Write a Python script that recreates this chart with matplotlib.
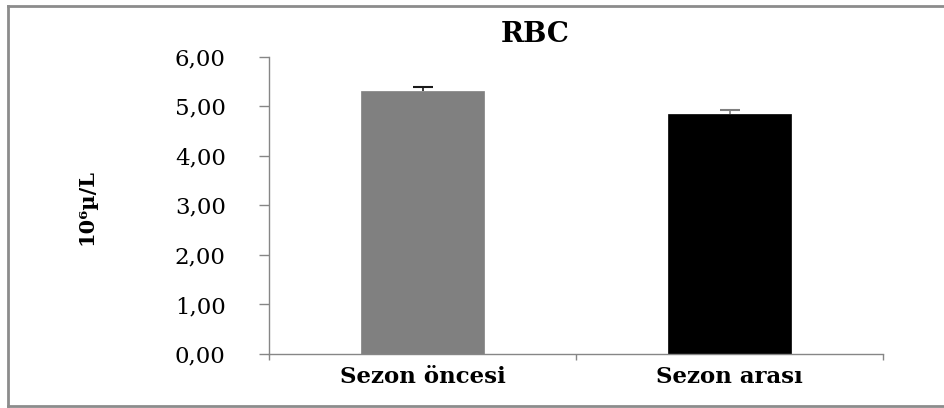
import matplotlib
matplotlib.use("Agg")
import matplotlib.pyplot as plt
from matplotlib.lines import Line2D

categories = ["Sezon öncesi", "Sezon arası"]
means = [5.31, 4.84]
errors = [0.07, 0.075]
bar_colors = ["#808080", "#000000"]
err_colors = ["#1a1a1a", "#7f7f7f"]
yticks = [0, 1, 2, 3, 4, 5, 6]
ytick_labels = ["0,00", "1,00", "2,00", "3,00", "4,00", "5,00", "6,00"]
title = "RBC"
ylabel = "10⁶µ/L"

plt.rcParams['font.family'] = ['DejaVu Serif']

fig = plt.figure(figsize=(9.44, 4.08), dpi=100)
ax = fig.add_axes([269/944, 1-354/408, (883-269)/944, (354-56.7)/408])

x = list(range(len(categories)))
for i in x:
    ax.bar(i, means[i], width=0.4, color=bar_colors[i], edgecolor=bar_colors[i], linewidth=0.5, zorder=2)
    cont = ax.errorbar(i, means[i], yerr=[[0], [errors[i]]], fmt='none', ecolor=err_colors[i],
                       elinewidth=1.2, capsize=7.2, capthick=1.5, zorder=3)
    caps = cont.lines[1]
    if len(caps) == 2:
        caps[0].remove()

ax.set_xlim(-0.5, 1.5)
ax.set_ylim(0, 6)
ax.set_yticks(yticks)
ax.set_yticklabels(ytick_labels, fontsize=16.5)
ax.set_xticks([-0.5, 0.5, 1.5])
ax.set_xticklabels([])
ax.tick_params(axis='y', direction='out', length=7.2, width=1, color='#868686', pad=24)
ax.tick_params(axis='x', direction='out', length=4.5, width=1, color='#868686')
for i, c in enumerate(categories):
    ax.text(i, -0.47, c, ha='center', va='center', fontsize=16.5, fontweight='bold',
            transform=ax.transData)

for s in ['top', 'right']:
    ax.spines[s].set_visible(False)
for s in ['left', 'bottom']:
    ax.spines[s].set_color('#868686')
    ax.spines[s].set_linewidth(1)

fig.text(535/944, 1-34/408, title, ha='center', va='center', fontsize=20, fontweight='bold')
fig.text(86/944, 1-207/408, ylabel, ha='center', va='center', fontsize=15, fontweight='bold',
         rotation=90)

# figure border (top, left, bottom; right edge lies outside the picture)
bc = '#8c8c8c'
xl, yb, yt = 8/944, 2.5/408, 1-6/408
fig.add_artist(Line2D([xl, 1.05], [yt, yt], transform=fig.transFigure, color=bc, lw=2))
fig.add_artist(Line2D([xl, xl], [yb, yt], transform=fig.transFigure, color=bc, lw=2))
fig.add_artist(Line2D([xl, 1.05], [yb, yb], transform=fig.transFigure, color=bc, lw=2))

fig.savefig("out.png", dpi=100)
